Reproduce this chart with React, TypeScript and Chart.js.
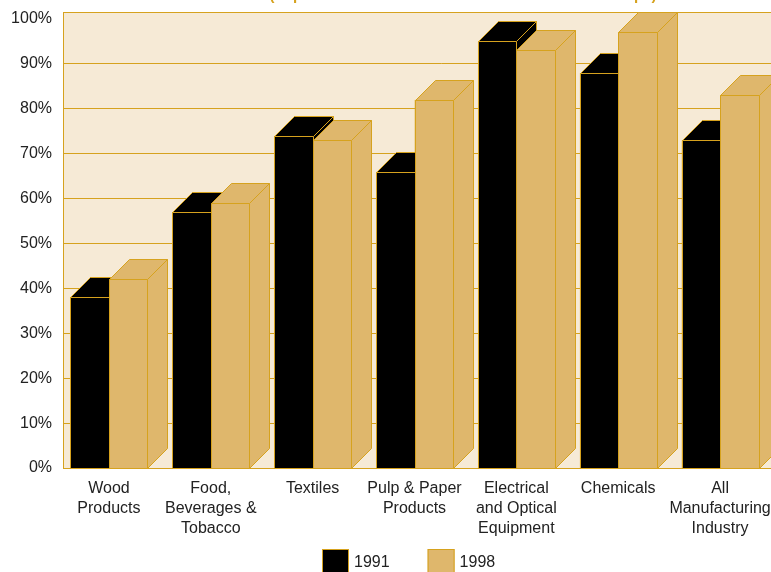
import React, { useEffect, useRef } from "react";
import { Chart, registerables } from "chart.js";

Chart.register(...registerables);

// ---- data ----
const categories: string[][] = [
  ["Wood", "Products"],
  ["Food,", "Beverages &", "Tobacco"],
  ["Textiles"],
  ["Pulp & Paper", "Products"],
  ["Electrical", "and Optical", "Equipment"],
  ["Chemicals"],
  ["All", "Manufacturing", "Industry"],
];
const seriesNames = ["1991", "1998"];
const values1991 = [38, 57, 74, 66, 95, 88, 73];
const values1998 = [42, 59, 73, 82, 93, 97, 83];
const yMin = 0;
const yMax = 100;
const yStep = 10;
const titleText = "(Exporters as a Share of All Firms in Selected Groups)";

// ---- style ----
const GOLD = "#D6A21E";
const CREAM = "#F6EAD6";
const TAN = "#DFB76C";
const BLACK = "#000000";
const TEXT = "#222222";
const FONT = "'Liberation Sans', Arial, Helvetica, sans-serif";
const DEPTH = 20;
const CANVAS_W = 818;
const CANVAS_H = 572;

const backdropPlugin = {
  id: "backdrop",
  beforeDatasetsDraw(chart: any) {
    const { ctx, chartArea, scales } = chart;
    const left = Math.round(chartArea.left + 6) - 0.5;
    const top = Math.round(chartArea.top - 7) + 0.5;
    const bottom = Math.round(chartArea.bottom) + 0.5;
    const right = chart.width + 2;
    ctx.save();
    ctx.fillStyle = CREAM;
    ctx.fillRect(left, top, right - left, bottom - top);
    ctx.strokeStyle = GOLD;
    ctx.lineWidth = 1;
    const ys = scales.y;
    ys.ticks.forEach((t: any) => {
      if (t.value <= yMin || t.value >= yMax) return;
      const py = Math.floor(ys.getPixelForValue(t.value)) + 0.5;
      ctx.beginPath();
      ctx.moveTo(left, py);
      ctx.lineTo(right, py);
      ctx.stroke();
    });
    ctx.strokeRect(left, top, right - left, bottom - top);
    ctx.restore();
  },
};

function poly(ctx: CanvasRenderingContext2D, pts: number[][], fill: string) {
  ctx.beginPath();
  ctx.moveTo(pts[0][0], pts[0][1]);
  for (let i = 1; i < pts.length; i++) ctx.lineTo(pts[i][0], pts[i][1]);
  ctx.closePath();
  ctx.fillStyle = fill;
  ctx.fill();
  ctx.stroke();
}

const bars3dPlugin = {
  id: "bars3d",
  afterDatasetsDraw(chart: any) {
    const ctx: CanvasRenderingContext2D = chart.ctx;
    const metas = chart.data.datasets.map((_: any, i: number) => chart.getDatasetMeta(i));
    const n = chart.data.labels.length;
    ctx.save();
    ctx.lineWidth = 1;
    ctx.strokeStyle = GOLD;
    ctx.lineJoin = "miter";
    for (let i = 0; i < n; i++) {
      metas.forEach((meta: any) => {
        const el = meta.data[i];
        if (!el) return;
        const { x, y, base, width } = el.getProps(["x", "y", "base", "width"], true);
        const fill = chart.data.datasets[meta.index].backgroundColor as string;
        const l = Math.round(x - width / 2) + 0.5;
        const r = Math.round(x + width / 2) + 0.5;
        const t = Math.round(y) + 0.5;
        const b = Math.round(base) + 0.5;
        const d = DEPTH;
        poly(ctx, [[l, t], [r, t], [r, b], [l, b]], fill);
        poly(ctx, [[l, t], [l + d, t - d], [r + d, t - d], [r, t]], fill);
        poly(ctx, [[r, t], [r + d, t - d], [r + d, b - d], [r, b]], fill);
      });
    }
    ctx.restore();
  },
};

const legendPlugin = {
  id: "boxLegend",
  afterDraw(chart: any) {
    const ctx: CanvasRenderingContext2D = chart.ctx;
    const box = 27;
    const gap = 5;
    const itemGap = 38;
    ctx.save();
    ctx.font = `16px ${FONT}`;
    const items = chart.data.datasets.map((ds: any) => ({
      text: ds.label as string,
      fill: ds.backgroundColor as string,
      w: ctx.measureText(ds.label).width,
    }));
    const total =
      items.reduce((s: number, it: any) => s + box + gap + it.w, 0) + itemGap * (items.length - 1);
    let x = Math.round(chart.width / 2 - total / 2);
    const top = Math.round(chart.chartArea.bottom + 81);
    items.forEach((it: any) => {
      ctx.fillStyle = it.fill;
      ctx.fillRect(x, top, box, box);
      ctx.strokeStyle = GOLD;
      ctx.lineWidth = 1;
      ctx.strokeRect(x + 0.5, top + 0.5, box - 1, box - 1);
      ctx.fillStyle = TEXT;
      ctx.textAlign = "left";
      ctx.textBaseline = "middle";
      ctx.fillText(it.text, x + box + gap, top + box / 2);
      x += box + gap + it.w + itemGap;
    });
    ctx.restore();
  },
};

const titlePlugin = {
  id: "cutTitle",
  afterDraw(chart: any) {
    const ctx: CanvasRenderingContext2D = chart.ctx;
    ctx.save();
    ctx.font = `bold 15px ${FONT}`;
    ctx.fillStyle = GOLD;
    ctx.textAlign = "center";
    ctx.textBaseline = "alphabetic";
    ctx.fillText(titleText, 463, 0);
    ctx.restore();
  },
};

export default function App() {
  const ref = useRef<HTMLCanvasElement | null>(null);

  useEffect(() => {
    if (!ref.current) return;
    const chart = new Chart(ref.current, {
      type: "bar",
      data: {
        labels: categories as any,
        datasets: [
          {
            label: seriesNames[0],
            data: values1991,
            backgroundColor: BLACK,
            borderColor: GOLD,
            borderWidth: 1,
            borderSkipped: false,
            categoryPercentage: 0.756,
            barPercentage: 1,
          },
          {
            label: seriesNames[1],
            data: values1998,
            backgroundColor: TAN,
            borderColor: GOLD,
            borderWidth: 1,
            borderSkipped: false,
            categoryPercentage: 0.756,
            barPercentage: 1,
          },
        ],
      },
      options: {
        responsive: false,
        maintainAspectRatio: false,
        animation: false,
        events: [],
        layout: { padding: { top: 19, left: 0, right: 0, bottom: 22 } },
        plugins: {
          title: { display: false },
          tooltip: { enabled: false },
          legend: { display: false },
        },
        scales: {
          x: {
            type: "category",
            grid: { display: false, drawTicks: false },
            border: { display: false },
            ticks: {
              color: TEXT,
              font: { family: FONT, size: 16, lineHeight: 1.25 },
              padding: 11,
              autoSkip: false,
              maxRotation: 0,
              minRotation: 0,
            },
          },
          y: {
            type: "linear",
            position: "left",
            min: yMin,
            max: yMax,
            grid: { display: false, drawTicks: false },
            border: { display: false },
            ticks: {
              stepSize: yStep,
              color: TEXT,
              font: { family: FONT, size: 16 },
              padding: 6,
              callback: (v: any) => `${v}%`,
            },
            afterFit: (s: any) => {
              s.width = 58;
            },
          },
          yRight: {
            type: "linear",
            axis: "y",
            position: "right",
            display: true,
            grid: { display: false, drawTicks: false },
            border: { display: false },
            ticks: { display: false },
            afterFit: (s: any) => {
              s.width = 47;
            },
          },
        },
      },
      plugins: [backdropPlugin, bars3dPlugin, legendPlugin, titlePlugin],
    });
    return () => chart.destroy();
  }, []);

  return (
    <div
      style={{
        position: "fixed",
        left: 0,
        top: 0,
        width: 771,
        height: 572,
        overflow: "hidden",
        background: "#ffffff",
      }}
    >
      <canvas
        ref={ref}
        width={CANVAS_W}
        height={CANVAS_H}
        style={{ display: "block", width: CANVAS_W, height: CANVAS_H }}
      />
    </div>
  );
}
